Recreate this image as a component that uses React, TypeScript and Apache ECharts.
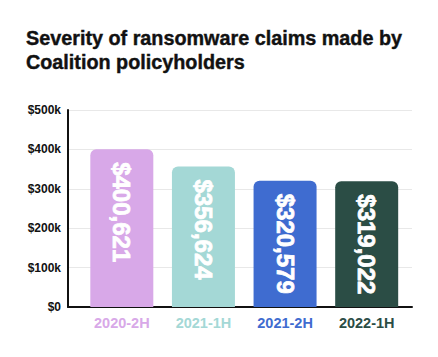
import React, { useEffect, useRef } from "react";
import * as echarts from "echarts";

const categories = ["2020-2H", "2021-1H", "2021-2H", "2022-1H"];
const values = [400621, 356624, 320579, 319022];
const barColors = ["#D8A8E8", "#A4D8D6", "#3F6CD0", "#2B4D45"];
const yTicks = [0, 100000, 200000, 300000, 400000, 500000];

const fmtK = (v: number) => (v === 0 ? "$0" : "$" + v / 1000 + "k");
const fmtFull = (v: number) => "$" + v.toLocaleString("en-US");

export default function App() {
  const ref = useRef<HTMLDivElement>(null);
  useEffect(() => {
    if (!ref.current) return;
    const chart = echarts.init(ref.current, null, { renderer: "svg" });
    const font = "'Liberation Sans', Arial, sans-serif";
    chart.setOption({
      animation: false,
      backgroundColor: "#ffffff",
      title: {
        text: "Severity of ransomware claims made by\nCoalition policyholders",
        left: 21,
        top: 21,
        textStyle: {
          fontFamily: font,
          fontWeight: "bold",
          fontSize: 19.8,
          lineHeight: 24,
          color: "#111111",
          textBorderColor: "#111111",
          textBorderWidth: 0.4,
        },
      },
      grid: [
        { left: 68, right: 26, top: 110, bottom: 50 },
        { left: 81, right: 30.5, top: 110, bottom: 50 },
      ],
      xAxis: [
        {
          type: "category",
          gridIndex: 0,
          data: categories,
          axisLine: { show: true, lineStyle: { color: "#111111", width: 2 } },
          axisTick: { show: false },
          axisLabel: { show: false },
        },
        {
          type: "category",
          gridIndex: 1,
          data: categories,
          axisLine: { show: false },
          axisTick: { show: false },
          axisLabel: {
            margin: 8,
            fontFamily: font,
            fontWeight: "bold",
            fontSize: 14.5,
            color: (_v: string, i: number) => barColors[i],
          },
        },
      ],
      yAxis: [
        {
          type: "value",
          gridIndex: 0,
          min: 0,
          max: 500000,
          interval: 100000,
          axisLine: { show: true, lineStyle: { color: "#111111", width: 2 } },
          axisTick: { show: false },
          splitLine: { show: true, lineStyle: { color: "#E8E8E8", width: 1 } },
          axisLabel: {
            margin: 7,
            fontFamily: font,
            fontWeight: "bold",
            fontSize: 12,
            color: "#111111",
            formatter: (v: number) => (yTicks.includes(v) ? fmtK(v) : ""),
          },
        },
        {
          type: "value",
          gridIndex: 1,
          min: 0,
          max: 500000,
          show: false,
        },
      ],
      series: [
        {
          type: "bar",
          xAxisIndex: 1,
          yAxisIndex: 1,
          barWidth: 63,
          z: 1,
          data: values.map((v, i) => ({
            value: v,
            itemStyle: { color: barColors[i], borderRadius: [6, 6, 0, 0] },
          })),
          label: {
            show: true,
            position: "insideTop",
            distance: 13,
            rotate: -90,
            align: "left",
            verticalAlign: "middle",
            fontFamily: font,
            fontWeight: "bold",
            fontSize: 24,
            color: "#ffffff",
            textBorderColor: "#ffffff",
            textBorderWidth: 0.8,
            formatter: (p: any) => fmtFull(p.value),
          },
        },
      ],
    });
    return () => chart.dispose();
  }, []);
  return <div ref={ref} style={{ width: 438, height: 357, position: "absolute", left: 0, top: 0 }} />;
}
